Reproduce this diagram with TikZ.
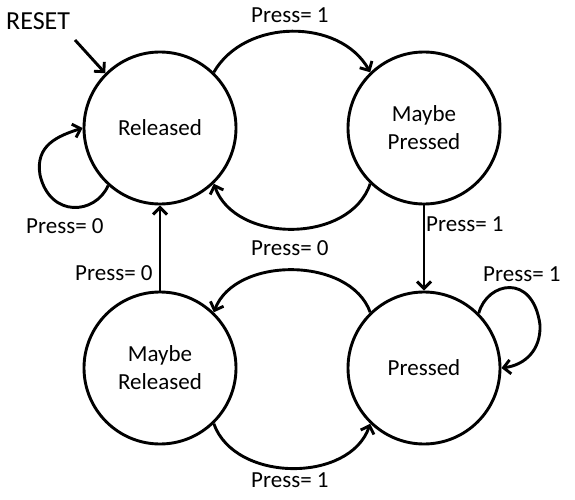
\documentclass[tikz,border=0pt]{standalone}
\usepackage{fontspec}
\setmainfont{Carlito}
\usetikzlibrary{arrows.meta}
\begin{document}
\begin{tikzpicture}[x=1pt,y=-1pt,
  state/.style={circle,draw,line width=2.9pt,minimum size=152pt,inner sep=0pt,align=center,font=\fontsize{23}{28}\selectfont},
  lbl/.style={inner sep=0pt,anchor=base west,font=\fontsize{23}{28}\selectfont},
  arr/.style={line width=2.9pt,-{Straight Barb[length=7pt,width=14pt]}}]
\useasboundingbox (0,0) rectangle (575,500);
\node[state] (rel) at (160,128) {Released};
\node[state] (mp) at (424,128) {Maybe\\Pressed};
\node[state] (mr) at (160,368) {Maybe\\Released};
\node[state] (pr) at (424,368) {Pressed};
% reset
\node[inner sep=0pt,anchor=base west,font=\fontsize{26}{30}\selectfont] (reset) at (6,30) {RESET};
\coordinate (rs) at (75,40);
\draw[arr] (rs) -- (rel.135);
% transitions
\draw[arr] (rel.46) .. controls (245,18) and (340,18) .. (mp.134);
\draw[arr] (mp.-134) .. controls (350,244) and (235,244) .. (rel.-46);
\draw[arr] (pr.134) .. controls (350,256) and (235,256) .. (mr.46);
\draw[arr] (mr.-46) .. controls (235,483) and (350,483) .. (pr.-134);
\draw[arr] (mp) -- (pr);
\draw[arr] (mr) -- (rel);
% self loops
\draw[arr] (rel.228) .. controls (95,215) and (50,218) .. (40,175) .. controls (35,145) and (58,136) .. (rel.180);
\draw[arr] (pr.45) .. controls (487,282) and (533,272) .. (540,325) .. controls (541,350) and (525,365) .. (pr.0);
% labels
\node[lbl] (l1) at (251,23) {Press= 1};
\node[lbl] (l2) at (251,255) {Press= 0};
\node[lbl] (l3) at (251,487) {Press= 1};
\node[lbl] (l4) at (426,231) {Press= 1};
\node[lbl] (l5) at (483,281) {Press= 1};
\node[lbl] (l6) at (75,280) {Press= 0};
\node[lbl] (l7) at (26,233) {Press= 0};
\end{tikzpicture}
\end{document}
